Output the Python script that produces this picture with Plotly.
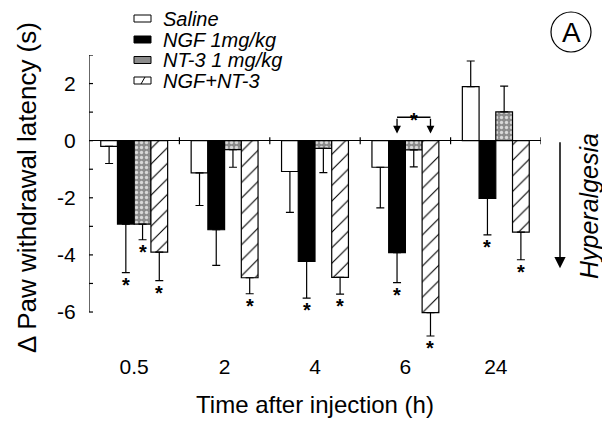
import plotly.graph_objects as go

groups = ["0.5", "2", "4", "6", "24"]
series = ["Saline", "NGF 1mg/kg", "NT-3 1 mg/kg", "NGF+NT-3"]

saline = [-0.2, -1.13, -1.08, -0.93, 1.89]
saline_err = [0.6, 1.14, 1.43, 1.42, 0.9]
ngf = [-2.92, -3.12, -4.23, -3.92, -2.02]
ngf_err = [1.7, 1.25, 1.28, 1.05, 1.28]
nt3 = [-2.92, -0.31, -0.27, -0.32, 1.01]
nt3_err = [0.55, 0.62, 0.85, 0.6, 0.9]
combo = [-3.9, -4.8, -4.79, -6.02, -3.2]
combo_err = [1.0, 0.56, 0.58, 0.82, 0.97]

sig_saline = [0, 0, 0, 0, 0]
sig_ngf = [1, 0, 1, 1, 1]
sig_nt3 = [1, 0, 0, 0, 0]
sig_combo = [1, 1, 1, 1, 1]

y_major = [-6, -4, -2, 0, 2]
y_major_text = ["-6", "-4", "-2", "0", "2"]
y_minor = [-5, -3, -1, 1, 3]

# bracket between NGF and NGF+NT-3 at 6 h
bracket_group = 3
bracket_series = (1, 3)
bracket_level = 0.82
bracket_tip = 0.25

FONT = "Liberation Sans, Arial, sans-serif"
W, H = 602, 423
ML, MR, MT, MB = 89, 61, 55, 71
PW, PH = W - ML - MR, H - MT - MB
BAR_W = 0.185
x = list(range(len(groups)))

values = [saline, ngf, nt3, combo]
errors = [saline_err, ngf_err, nt3_err, combo_err]
sigs = [sig_saline, sig_ngf, sig_nt3, sig_combo]

styles = [
    dict(color="white", pattern=dict(shape="")),
    dict(color="black", pattern=dict(shape="")),
    dict(color="#8c8c8c", pattern=dict(shape=".", fgcolor="#d8d8d8", bgcolor="#8c8c8c",
                                       size=5, solidity=0.35, fillmode="replace")),
    dict(color="white", pattern=dict(shape="/", fgcolor="black", bgcolor="white",
                                     size=11, solidity=0.1, fillmode="replace")),
]
swatch_fill = ["white", "black", "#8c8c8c", "white"]


def px_x(p):
    return (p - ML) / PW


def px_y(p):
    return (H - MB - p) / PH


def offset_of(i):
    return -2 * BAR_W + i * BAR_W


fig = go.Figure()
for i, name in enumerate(series):
    vals = values[i]
    errs = errors[i]
    up = [e if v >= 0 else 0 for v, e in zip(vals, errs)]
    down = [e if v < 0 else 0 for v, e in zip(vals, errs)]
    fig.add_trace(go.Bar(
        x=x, y=vals, name=name, showlegend=False,
        width=BAR_W, offset=offset_of(i),
        marker=dict(color=styles[i]["color"], pattern=styles[i]["pattern"],
                    line=dict(color="black", width=1.2)),
        error_y=dict(type="data", symmetric=False, array=up, arrayminus=down,
                     color="black", thickness=1.2, width=4),
    ))

annotations = []
shapes = []

# significance asterisks
for i in range(len(series)):
    for g in x:
        if sigs[i][g]:
            v = values[i][g]
            e = errors[i][g]
            end = v + e if v >= 0 else v - e
            annotations.append(dict(
                x=g + offset_of(i) + BAR_W / 2, y=end, xref="x", yref="y",
                text="<b>*</b>", showarrow=False, yanchor="top", yshift=1,
                font=dict(family=FONT, size=20, color="black")))

# bracket with arrows
bx = [bracket_group + offset_of(s) + BAR_W / 2 for s in bracket_series]
shapes.append(dict(type="line", xref="x", yref="y", x0=bx[0], x1=bx[1],
                   y0=bracket_level, y1=bracket_level, line=dict(color="black", width=1.3)))
for xx in bx:
    annotations.append(dict(x=xx, y=bracket_tip, ax=xx, ay=bracket_level,
                            xref="x", yref="y", axref="x", ayref="y",
                            text="", showarrow=True, arrowhead=2, arrowsize=1.2,
                            arrowwidth=1.3, arrowcolor="black"))
annotations.append(dict(x=sum(bx) / 2, y=bracket_level, xref="x", yref="y",
                        text="<b>*</b>", showarrow=False, xanchor="center", yanchor="middle",
                        yshift=-3, font=dict(family=FONT, size=20, color="black")))

# Hyperalgesia arrow and label
annotations.append(dict(x=px_x(560), y=-4.47, xref="paper", yref="y",
                        ax=0, ay=0, axref="pixel", ayref="y",
                        text="", showarrow=True, arrowhead=2, arrowsize=1.5,
                        arrowwidth=1.5, arrowcolor="black"))
annotations.append(dict(x=px_x(589), y=px_y(206), xref="paper", yref="paper",
                        xanchor="center", yanchor="middle",
                        text="<i>Hyperalgesia</i>", textangle=-90, showarrow=False,
                        font=dict(family=FONT, size=25, color="black")))
# y axis title
annotations.append(dict(x=px_x(27), y=px_y(188), xref="paper", yref="paper",
                        xanchor="center", yanchor="middle",
                        text="\u0394 Paw withdrawal latency (s)", textangle=-90, showarrow=False,
                        font=dict(family=FONT, size=26, color="black")))
# panel label
annotations.append(dict(x=px_x(571), y=px_y(33), xref="paper", yref="paper",
                        xanchor="center", yanchor="middle",
                        text="A", showarrow=False,
                        font=dict(family=FONT, size=28, color="black")))
shapes.append(dict(type="circle", xref="paper", yref="paper",
                   xsizemode="pixel", ysizemode="pixel", xanchor=px_x(571), yanchor=px_y(32),
                   x0=-20, x1=20, y0=-20, y1=20, line=dict(color="black", width=1.2)))

# legend (swatch + label per series)
leg_rows = [18.5, 39.5, 60, 80.5]
for i, name in enumerate(series):
    cy = leg_rows[i]
    shapes.append(dict(type="rect", xref="paper", yref="paper",
                       x0=px_x(134), x1=px_x(151), y0=px_y(cy + 3.5), y1=px_y(cy - 3.5),
                       fillcolor=swatch_fill[i], line=dict(color="black", width=1)))
    if styles[i]["pattern"]["shape"] == "/":
        shapes.append(dict(type="line", xref="paper", yref="paper",
                           x0=px_x(141), x1=px_x(145), y0=px_y(cy + 3.5), y1=px_y(cy - 3.5),
                           line=dict(color="black", width=1)))
    annotations.append(dict(x=px_x(161), y=px_y(cy), xref="paper", yref="paper",
                            xanchor="left", yanchor="middle", showarrow=False,
                            text="<i>" + name + "</i>",
                            font=dict(family=FONT, size=20, color="black")))

# y axis line
shapes.append(dict(type="line", xref="x", yref="y", x0=-0.5, x1=-0.5,
                   y0=min(y_major), y1=max(y_minor), line=dict(color="black", width=1.2)))
# crossing ticks on y axis
for v in y_major + y_minor:
    shapes.append(dict(type="line", xref="x", yref="y", xsizemode="pixel", xanchor=-0.5,
                       x0=-4, x1=4, y0=v, y1=v, line=dict(color="black", width=1.2)))
# crossing ticks at group boundaries on the zero line
for g in x:
    shapes.append(dict(type="line", xref="x", yref="y", ysizemode="pixel", yanchor=0,
                       x0=g + 0.5, x1=g + 0.5, y0=-3.5, y1=3.5,
                       line=dict(color="black", width=1.2)))

fig.update_layout(
    width=W, height=H,
    margin=dict(l=ML, r=MR, t=MT, b=MB, autoexpand=False),
    paper_bgcolor="white", plot_bgcolor="white",
    font=dict(family=FONT, color="black"),
    showlegend=False,
    annotations=annotations,
    shapes=shapes,
)
fig.update_xaxes(range=[-0.5, 4.5], tickvals=x, ticktext=groups, showgrid=False,
                 showline=False, zeroline=False, ticks="", tickfont=dict(size=21),
                 automargin=False,
                 title=dict(text="Time after injection (h)", font=dict(size=24), standoff=19))
fig.update_yaxes(range=[-7.4, 3.0], tickvals=y_major, ticktext=y_major_text, showgrid=False,
                 showline=False, zeroline=True, zerolinecolor="black", zerolinewidth=1.2,
                 ticks="outside", ticklen=8, tickcolor="rgba(0,0,0,0)", tickfont=dict(size=21),
                 automargin=False)

fig.write_html("out.html", config={"displayModeBar": False},
               post_script="document.body.style.margin='0';document.body.style.overflow='hidden';")
